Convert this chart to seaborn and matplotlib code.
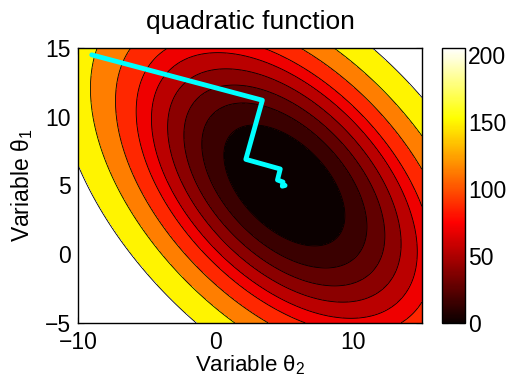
import numpy as np
import matplotlib
matplotlib.use('Agg')
import matplotlib.pyplot as plt
import seaborn as sns

# quadratic f = cxx*(x-x0)^2 + cyy*(y-y0)^2 + cxy*(x-x0)*(y-y0)
center = [5.0, 5.0]
cxx, cyy, cxy = 1.0, 1.0, 1.0
# contour levels (band colour = lower level on the colour scale)
levels = [0, 14.5, 27, 40, 54, 70, 87, 113, 149, 205]
cmax = 205
# descent path
path_x = [-9.0, 3.4, 2.2, 4.7, 4.5, 4.9, 4.85, 5.05]
path_y = [14.5, 11.2, 6.9, 6.2, 5.4, 5.25, 4.95, 5.0]
xticks = [-10, 0, 10]
yticks = [-5, 0, 5, 10, 15]
cticks = [0, 50, 100, 150, 200]

sns.set_style('ticks')
plt.rcParams['font.family'] = ['Liberation Sans', 'DejaVu Sans']
plt.rcParams['mathtext.fontset'] = 'custom'
plt.rcParams['mathtext.rm'] = 'Liberation Sans'
plt.rcParams['mathtext.it'] = 'Liberation Sans'
plt.rcParams['axes.unicode_minus'] = True
plt.rcParams['text.color'] = 'k'
plt.rcParams['axes.labelcolor'] = 'k'

fig = plt.figure(figsize=(5.09, 3.76), dpi=100)
ax = fig.add_axes([0.1532, 0.1410, 0.6758, 0.7314])
cax = fig.add_axes([0.8678, 0.1410, 0.0458, 0.7314])

gx = np.linspace(-10, 15, 400)
gy = np.linspace(-5, 15, 400)
X, Y = np.meshgrid(gx, gy)
dx, dy = X - center[0], Y - center[1]
Z = cxx * dx**2 + cyy * dy**2 + cxy * dx * dy

lv = levels + [Z.max() + 1]
band_colors = [plt.cm.hot(l / cmax) for l in levels]
ax.contourf(X, Y, Z, levels=lv, colors=band_colors)
ax.contour(X, Y, Z, levels=levels[1:], colors='k', linewidths=0.6)

sns.lineplot(x=path_x, y=path_y, sort=False, color='#00ffff', lw=3.5,
             ax=ax, legend=False)

ax.set_xlim(-10, 15)
ax.set_ylim(-5, 15)
ax.set_xticks(xticks)
ax.set_yticks(yticks)
ax.tick_params(direction='in', top=True, right=True, length=4, width=0.8,
               labelsize=16.5, colors='k')
ax.tick_params(axis='x', pad=6)
ax.tick_params(axis='y', pad=5)
for s in ax.spines.values():
    s.set_color('k')
    s.set_linewidth(1)
ax.set_xlabel(r'Variable $\theta_2$', fontsize=16, labelpad=-1)
ax.set_ylabel(r'Variable $\theta_1$', fontsize=16.5, labelpad=7)
ax.set_title('quadratic function', fontsize=19, pad=14)

sm = plt.cm.ScalarMappable(norm=plt.Normalize(0, cmax), cmap='hot')
cb = fig.colorbar(sm, cax=cax, ticks=cticks)
cb.outline.set_edgecolor('k')
cb.outline.set_linewidth(1)
cax.tick_params(direction='in', left=True, right=True, length=4, width=0.8,
                labelsize=16.5, pad=2, colors='k')

fig.savefig('out.png', dpi=100)
